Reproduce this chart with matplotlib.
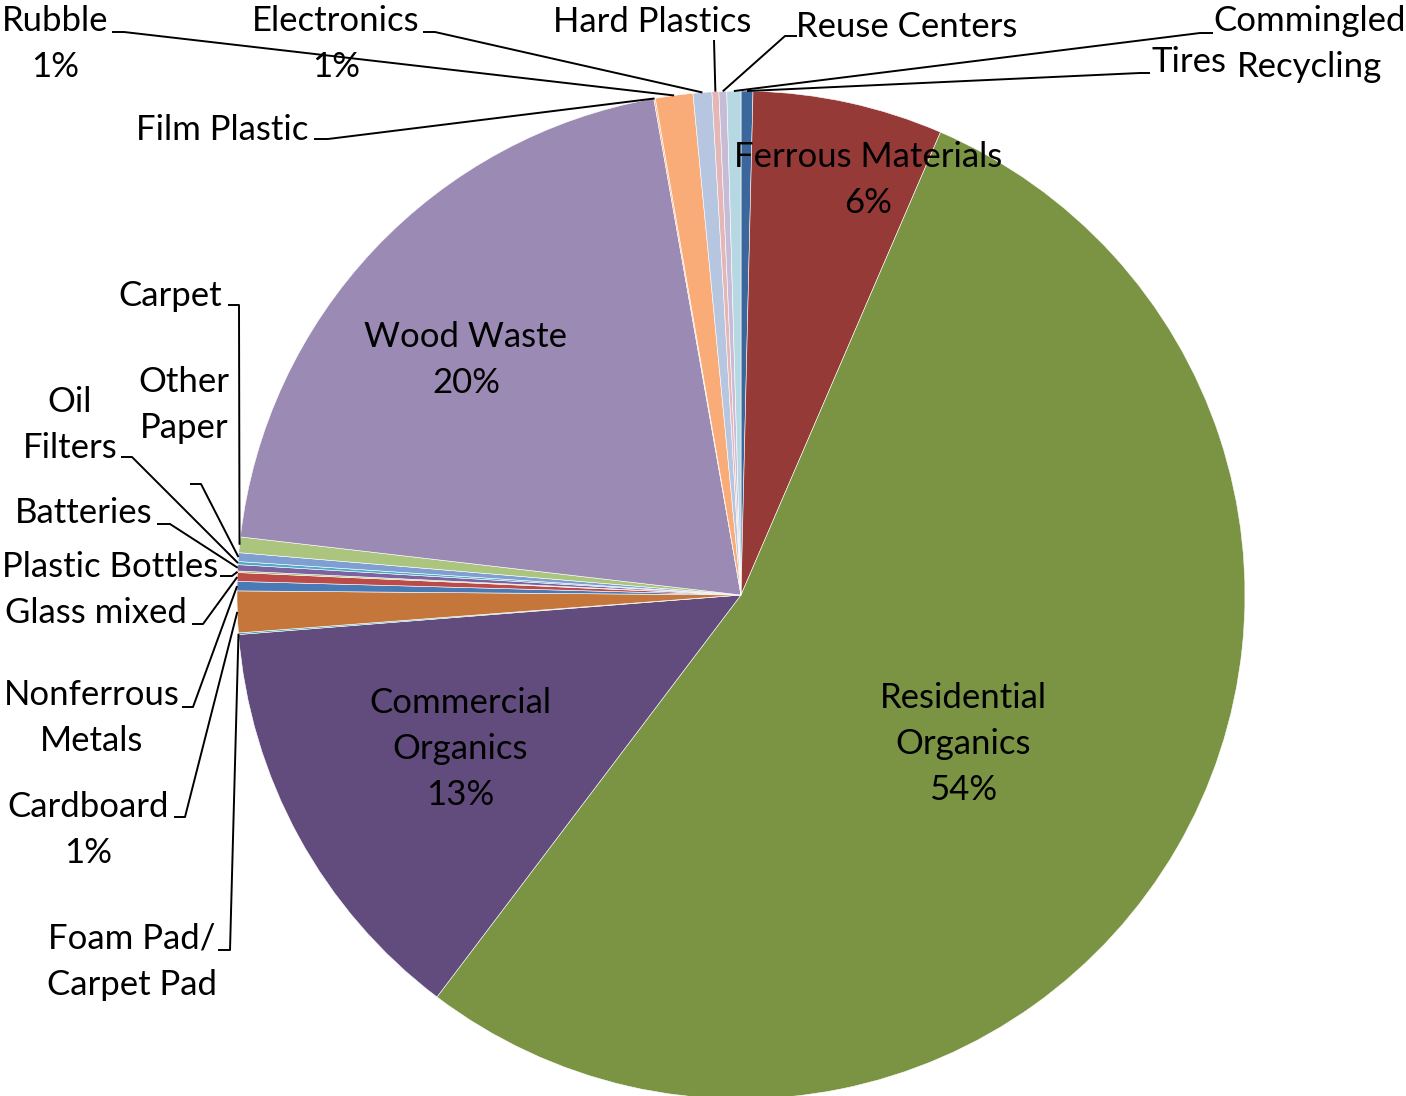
import matplotlib
matplotlib.use('Agg')
import matplotlib.pyplot as plt
import numpy as np

# slices in drawing order, clockwise from 12 o'clock (percent of total)
categories = ['Tires', 'Ferrous Materials', 'Residential Organics', 'Commercial Organics',
              'Foam Pad/Carpet Pad', 'Cardboard', 'Nonferrous Metals', 'Glass mixed',
              'Plastic Bottles', 'Batteries', 'Oil Filters', 'Other Paper', 'Carpet',
              'Wood Waste', 'Film Plastic', 'Rubble', 'Electronics', 'Hard Plastics',
              'Reuse Centers', 'Commingled Recycling']
shares = [0.38, 6.1, 53.85, 13.45, 0.05, 1.33, 0.3, 0.28, 0.05, 0.2, 0.1, 0.28, 0.5,
          20.4, 0.05, 1.2, 0.6, 0.22, 0.25, 0.45]
colors = ['#3B679C', '#963A38', '#7A9443', '#624C7E', '#3A9BB5', '#C5763A', '#4A7AB5',
          '#BA4B48', '#9BBB59', '#7D62A0', '#4BACC6', '#7F9ED2', '#ABC57F', '#9B8BB4',
          '#F9B283', '#F9AC78', '#B6C6E0', '#E4B7B6', '#C6BCD7', '#B6D8E2']
label_text = ['Tires', 'Ferrous Materials', 'Residential\nOrganics', 'Commercial\nOrganics',
              'Foam Pad/\nCarpet Pad', 'Cardboard', 'Nonferrous\nMetals', 'Glass mixed',
              'Plastic Bottles', 'Batteries', 'Oil\nFilters', 'Other\nPaper', 'Carpet',
              'Wood Waste', 'Film Plastic', 'Rubble', 'Electronics', 'Hard Plastics',
              'Reuse Centers', 'Commingled\nRecycling']
show_pct = ['Ferrous Materials', 'Residential Organics', 'Commercial Organics', 'Cardboard',
            'Wood Waste', 'Rubble', 'Electronics']

# label block centres (pixels)
label_pos = {
    'Tires': (1189, 62), 'Ferrous Materials': (868, 180), 'Residential Organics': (963, 744),
    'Commercial Organics': (460, 749), 'Foam Pad/Carpet Pad': (132, 962),
    'Cardboard': (88, 830), 'Nonferrous Metals': (92, 718), 'Glass mixed': (96, 613),
    'Plastic Bottles': (110, 567), 'Batteries': (84, 513), 'Oil Filters': (70, 425),
    'Other Paper': (184, 405), 'Carpet': (170, 296), 'Wood Waste': (466, 360),
    'Film Plastic': (222, 130), 'Rubble': (55, 44), 'Electronics': (336, 44),
    'Hard Plastics': (652, 22), 'Reuse Centers': (907, 27),
    'Commingled Recycling': (1310, 44),
}
# leader line points on the label side; the last point is added at the slice edge
leaders = {
    'Rubble': [(112, 32), (124, 32)], 'Electronics': [(423, 32), (435, 32)],
    'Hard Plastics': [(714, 40)], 'Reuse Centers': [(797, 36), (785, 36)],
    'Commingled Recycling': [(1213, 33), (1200, 33)], 'Tires': [(1150, 73), (1140, 73)],
    'Film Plastic': [(314, 139), (328, 139)], 'Carpet': [(228, 305), (239, 305)],
    'Other Paper': [(190, 484), (201, 484)], 'Oil Filters': [(121, 457), (132, 457)],
    'Batteries': [(157, 524), (170, 524)], 'Plastic Bottles': [(220, 576), (232, 576)],
    'Glass mixed': [(192, 624), (203, 624)], 'Nonferrous Metals': [(182, 707), (193, 707)],
    'Cardboard': [(174, 817), (185, 817)], 'Foam Pad/Carpet Pad': [(218, 950), (230, 950)],
}

cx, cy, r = 741, 595, 504
line_gap = 46

fig = plt.figure(figsize=(14.06, 10.96), dpi=100)
ax = fig.add_axes([0, 0, 1, 1])
ax.pie(shares, colors=colors, center=(cx, cy), radius=r, startangle=-90, counterclock=True,
       wedgeprops=dict(edgecolor='white', linewidth=0.4))
ax.set_xlim(0, 1406)
ax.set_ylim(1096, 0)
ax.set_aspect('equal')
ax.axis('off')

total = sum(shares)
cum = np.cumsum([0] + shares[:-1])
for i, name in enumerate(categories):
    lines = label_text[i].split('\n')
    if name in show_pct:
        lines.append('%d%%' % round(shares[i] / total * 100))
    x, y = label_pos[name]
    n = len(lines)
    for k, line in enumerate(lines):
        ax.text(x, y + (k - (n - 1) / 2) * line_gap, line, ha='center', va='center',
                fontsize=25, family='Lato', color='black')
    if name in leaders:
        t = np.deg2rad(360 * (cum[i] + shares[i] / 2) / total)
        pts = leaders[name] + [(cx + r * np.sin(t), cy - r * np.cos(t))]
        ax.plot([p[0] for p in pts], [p[1] for p in pts], color='black', lw=1.4,
                solid_capstyle='butt')

plt.savefig('out.png', dpi=100)
